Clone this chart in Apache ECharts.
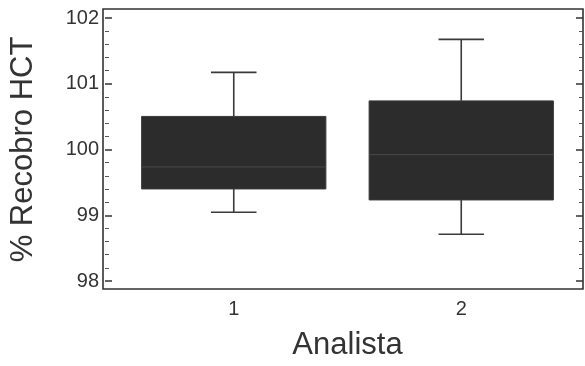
<!DOCTYPE html>
<html>
<head>
<meta charset="utf-8">
<script src="https://cdn.jsdelivr.net/npm/echarts@6/dist/echarts.min.js"></script>
<style>
html,body{margin:0;padding:0;background:#fff;}
#grafico{width:585px;height:366px;}
</style>
</head>
<body>
<div id="grafico"></div>
<script>
// datos del gráfico
var analistas = ['1', '2'];
var bigoteInf = [99.0, 98.66];
var cuartil1 = [99.36, 99.19];
var mediana = [99.70, 99.89];
var cuartil3 = [100.48, 100.72];
var bigoteSup = [101.16, 101.67];
var marcasY = [98, 99, 100, 101, 102];

var datos = [];
for (var i = 0; i < analistas.length; i++) {
	datos.push([i, bigoteInf[i], cuartil1[i], mediana[i], cuartil3[i], bigoteSup[i]]);
}

var fuente = 'Arial, Liberation Sans, sans-serif';
var grafico = echarts.init(document.getElementById('grafico'));

function dibujarCaja(params, api) {
	var x = api.value(0);
	var pMin = api.coord([x, api.value(1)]);
	var pQ1 = api.coord([x, api.value(2)]);
	var pMed = api.coord([x, api.value(3)]);
	var pQ3 = api.coord([x, api.value(4)]);
	var pMax = api.coord([x, api.value(5)]);
	var banda = api.size([1, 0])[0];
	var mitad = banda * 0.81 / 2;
	var tapa = banda * 0.1;
	var cx = pMed[0];
	var linea = {stroke: '#3a3a3a', lineWidth: 1.6};
	return {
		type: 'group',
		children: [
			{type: 'line', shape: {x1: cx, y1: pQ3[1], x2: cx, y2: pMax[1]}, style: linea},
			{type: 'line', shape: {x1: cx, y1: pQ1[1], x2: cx, y2: pMin[1]}, style: linea},
			{type: 'line', shape: {x1: cx - tapa, y1: pMax[1], x2: cx + tapa, y2: pMax[1]}, style: linea},
			{type: 'line', shape: {x1: cx - tapa, y1: pMin[1], x2: cx + tapa, y2: pMin[1]}, style: linea},
			{type: 'rect', shape: {x: cx - mitad, y: pQ3[1], width: mitad * 2, height: pQ1[1] - pQ3[1]},
				style: {fill: '#2c2c2c', stroke: '#3a3a3a', lineWidth: 1}},
			{type: 'line', shape: {x1: cx - mitad, y1: pMed[1], x2: cx + mitad, y2: pMed[1]},
				style: {stroke: '#4a4a4a', lineWidth: 1}}
		]
	};
}

grafico.setOption({
	animation: false,
	grid: [
		// marco
		{left: 103, right: 2, top: 9, bottom: 77, show: true, borderColor: '#333', borderWidth: 1.6, backgroundColor: 'transparent'},
		// ejes Y
		{left: 103, right: 2, top: 18, bottom: 85},
		// cajas
		{left: 120, right: 10, top: 18, bottom: 85}
	],
	xAxis: [
		{gridIndex: 0, type: 'value', show: false},
		{gridIndex: 1, type: 'value', show: false},
		{
			gridIndex: 2,
			type: 'category',
			data: analistas,
			name: 'Analista',
			nameLocation: 'middle',
			nameGap: 53,
			nameTextStyle: {fontFamily: fuente, fontSize: 31, color: '#333'},
			axisLine: {show: false},
			axisTick: {show: false},
			axisLabel: {margin: 22, fontFamily: fuente, fontSize: 20, color: '#333'}
		}
	],
	yAxis: [
		{gridIndex: 0, type: 'value', show: false},
		{
			gridIndex: 1,
			type: 'value',
			min: marcasY[0],
			max: marcasY[marcasY.length - 1],
			interval: 1,
			position: 'left',
			name: '% Recobro HCT',
			nameLocation: 'middle',
			nameGap: 66,
			nameTextStyle: {fontFamily: fuente, fontSize: 31, color: '#333'},
			axisLine: {show: false},
			axisTick: {show: true, inside: true, length: 7, lineStyle: {color: '#333', width: 1.5}},
			minorTick: {show: true, splitNumber: 5, length: 4, lineStyle: {color: '#555', width: 1}},
			splitLine: {show: false},
			axisLabel: {margin: 6, fontFamily: fuente, fontSize: 20, color: '#333'}
		},
		{
			gridIndex: 1,
			type: 'value',
			min: marcasY[0],
			max: marcasY[marcasY.length - 1],
			interval: 1,
			position: 'right',
			axisLine: {show: false},
			axisTick: {show: true, inside: true, length: 7, lineStyle: {color: '#333', width: 1.5}},
			minorTick: {show: true, splitNumber: 5, length: 4, lineStyle: {color: '#555', width: 1}},
			splitLine: {show: false},
			axisLabel: {show: false}
		},
		{
			gridIndex: 2,
			type: 'value',
			min: marcasY[0],
			max: marcasY[marcasY.length - 1],
			show: false
		}
	],
	series: [{
		type: 'custom',
		xAxisIndex: 2,
		yAxisIndex: 3,
		renderItem: dibujarCaja,
		encode: {x: 0, y: [1, 2, 3, 4, 5]},
		data: datos
	}]
});
</script>
</body>
</html>
